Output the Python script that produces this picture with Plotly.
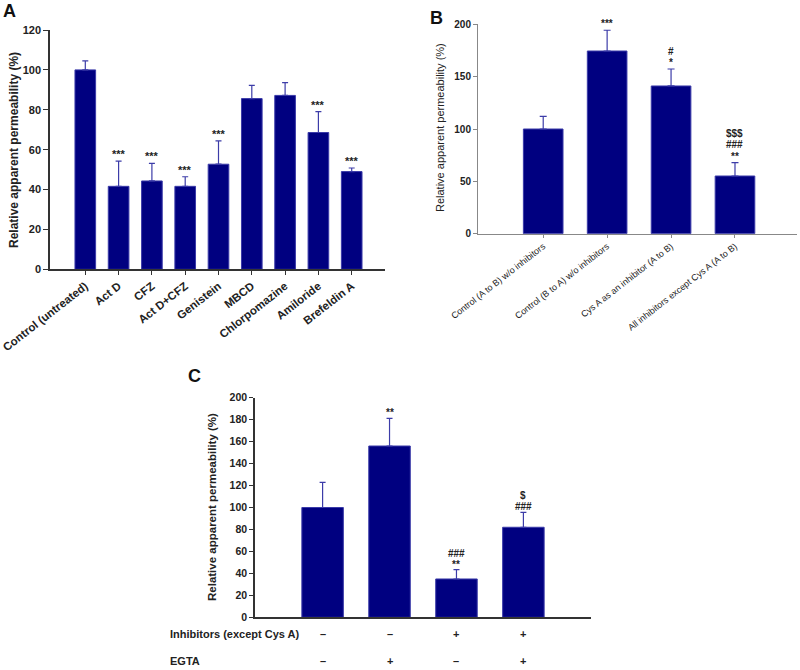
import plotly.graph_objects as go

# ---------------- data ----------------
a_labels = ["Control (untreated)", "Act D", "CFZ", "Act D+CFZ", "Genistein",
            "MBCD", "Chlorpomazine", "Amiloride", "Brefeldin A"]
a_values = [100, 41.6, 44.3, 41.6, 52.7, 85.6, 87.2, 68.6, 49.0]
a_errors = [4.5, 12.6, 8.8, 4.8, 11.7, 6.6, 6.4, 10.5, 1.8]
a_sig = [[], ["***"], ["***"], ["***"], ["***"], [], [], ["***"], ["***"]]

b_labels = ["Control (A to B) w/o inhibitors", "Control (B to A) w/o inhibitors",
            "Cys A as an inhibitor (A to B)", "All inhibitors except Cys A (A to B)"]
b_values = [100, 174.5, 141.1, 55.1]
b_errors = [12.1, 19.8, 16.2, 12.7]
b_sig = [[], ["***"], ["*", "#"], ["**", "###", "$$$"]]

c_labels = ["c1", "c2", "c3", "c4"]
c_values = [100, 156, 34.9, 82]
c_errors = [22.8, 25.2, 8.5, 13.6]
c_sig = [[], ["**"], ["**", "###"], ["###", "$"]]
c_row_labels = ["Inhibitors (except Cys A)", "EGTA"]
c_inhibitors = ["–", "–", "+", "+"]
c_egta = ["–", "+", "–", "+"]

y_title = "Relative apparent permeability (%)"

# ---------------- style ----------------
FONT = "Arial, Liberation Sans, sans-serif"
BAR = "#000080"
BAR_EDGE = "#3a3aa8"
ERR = "#3c3ca8"
W, H = 800, 670


def px(x):
    return x / W


def py(y):
    return 1 - y / H


fig = go.Figure()


def add_bars(xname, yname, labels, values, errors, capw):
    fig.add_trace(go.Bar(
        x=labels, y=values, xaxis=xname, yaxis=yname,
        marker=dict(color=BAR, line=dict(color=BAR_EDGE, width=1)),
        error_y=dict(type="data", symmetric=False, array=errors,
                     arrayminus=[0] * len(errors), color=ERR,
                     thickness=1.2, width=capw),
        showlegend=False, hoverinfo="skip"))


add_bars("x", "y", a_labels, a_values, a_errors, 3)
add_bars("x2", "y2", b_labels, b_values, b_errors, 3.5)
add_bars("x3", "y3", c_labels, c_values, c_errors, 3)

annotations = []


def sig_ann(xref, yref, labels, values, errors, sigs, size, step, base):
    for lab, v, e, s in zip(labels, values, errors, sigs):
        for k, t in enumerate(s):
            annotations.append(dict(
                x=lab, y=v + e, xref=xref, yref=yref, text=t,
                showarrow=False, xanchor="center", yanchor="bottom",
                yshift=base + k * step,
                font=dict(family=FONT, size=size, color="#222", weight="bold")))


sig_ann("x", "y", a_labels, a_values, a_errors, a_sig, 11, 11, -1)
sig_ann("x2", "y2", b_labels, b_values, b_errors, b_sig, 10, 11.3, -1)
sig_ann("x3", "y3", c_labels, c_values, c_errors, c_sig, 10, 11, -2)

# panel letters
for letter, x, y in [("A", 9, 11), ("B", 436, 18), ("C", 194, 376)]:
    annotations.append(dict(x=px(x), y=py(y), xref="paper", yref="paper",
                            text=letter, showarrow=False, xanchor="center",
                            yanchor="middle",
                            font=dict(family=FONT, size=18, color="#111",
                                      weight="bold")))

# y-axis titles
for xx, yy, size, weight in [(14, 150, 12, "bold"), (440, 128, 11, "normal"),
                             (212, 507, 11.5, "bold")]:
    annotations.append(dict(x=px(xx), y=py(yy), xref="paper", yref="paper",
                            text=y_title, textangle=-90, showarrow=False,
                            xanchor="center", yanchor="middle",
                            font=dict(family=FONT, size=size, color="#222",
                                      weight=weight)))

# panel C condition rows
for row_label, signs, yy in [(c_row_labels[0], c_inhibitors, 634),
                              (c_row_labels[1], c_egta, 661)]:
    annotations.append(dict(x=px(168), y=py(yy), xref="paper", yref="paper",
                            text=row_label, showarrow=False, xanchor="left",
                            yanchor="middle",
                            font=dict(family=FONT, size=11, color="#222",
                                      weight="bold")))
    for lab, s in zip(c_labels, signs):
        annotations.append(dict(x=lab, y=py(yy), xref="x3", yref="paper",
                                text=s, showarrow=False, xanchor="center",
                                yanchor="middle",
                                font=dict(family=FONT, size=11, color="#222",
                                          weight="bold")))

axis_common = dict(showgrid=False, zeroline=False, showline=True,
                   ticks="outside", mirror=False, automargin=False)

fig.update_layout(
    width=W, height=H, autosize=False,
    margin=dict(l=0, r=0, t=0, b=0),
    paper_bgcolor="white", plot_bgcolor="white",
    bargap=0.38,
    font=dict(family=FONT, color="#222"),
    annotations=annotations,
    xaxis=dict(**axis_common, domain=[px(50), px(385)], anchor="y",
               type="category", range=[-1.06, 9.0], tickangle=-38,
               ticklen=4, linecolor="#333", linewidth=1.5, tickcolor="#333",
               tickfont=dict(family=FONT, size=11.5, color="#222",
                             weight="bold")),
    yaxis=dict(**axis_common, domain=[py(269.3), py(30)], anchor="x",
               range=[0, 120], dtick=20, ticklen=5, linecolor="#333",
               linewidth=1.5, tickcolor="#333",
               tickfont=dict(family=FONT, size=11, color="#222", weight="bold")),
    xaxis2=dict(**axis_common, domain=[px(478), px(797)], anchor="y2",
                type="category", range=[-1.02, 3.97], tickangle=-38,
                ticklen=3, linecolor="#888", linewidth=1, tickcolor="#888",
                tickfont=dict(family=FONT, size=9, color="#222")),
    yaxis2=dict(**axis_common, domain=[py(233.7), py(24.3)], anchor="x2",
                range=[0, 200], dtick=50, ticklen=4, linecolor="#888",
                linewidth=1, tickcolor="#888",
                tickfont=dict(family=FONT, size=10, color="#222", weight="bold")),
    xaxis3=dict(showgrid=False, zeroline=False, showline=True, ticks="",
                showticklabels=False, automargin=False,
                domain=[px(255), px(591)], anchor="y3",
                type="category", range=[-1.01, 4.01], linecolor="#333",
                linewidth=1.5),
    yaxis3=dict(**axis_common, domain=[py(617.3), py(397.7)], anchor="x3",
                range=[0, 200], dtick=20, ticklen=4, linecolor="#333",
                linewidth=1.5, tickcolor="#333",
                tickfont=dict(family=FONT, size=10.5, color="#222",
                              weight="bold")),
)

fig.write_html("out.html",
               config={"displayModeBar": False},
               post_script="document.body.style.margin='0px';"
                           "document.body.style.overflow='hidden';")
